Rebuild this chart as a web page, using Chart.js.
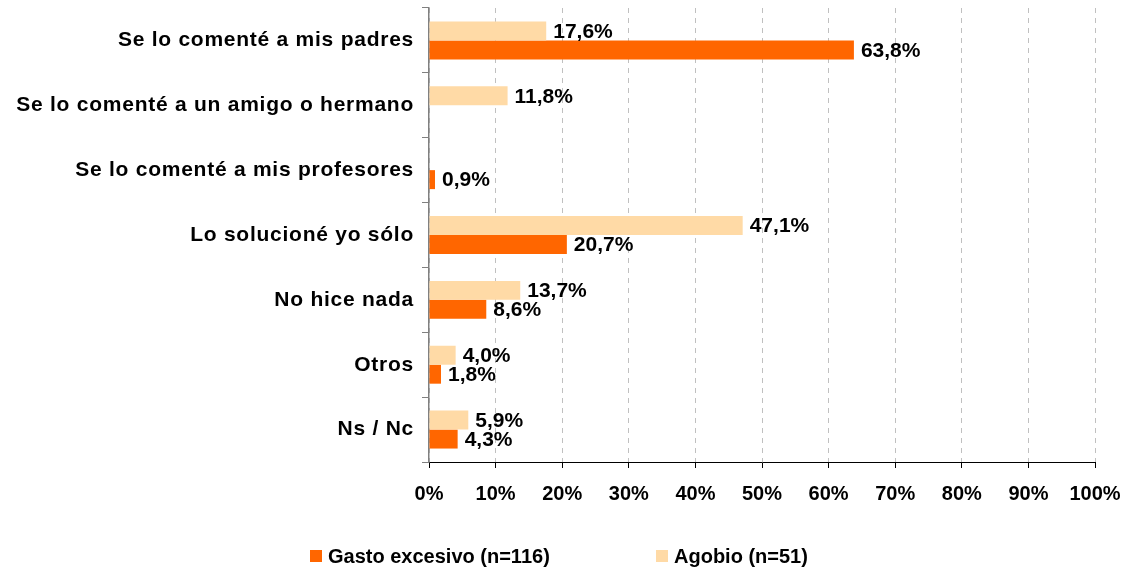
<!DOCTYPE html>
<html>
<head>
<meta charset="utf-8">
<script src="https://cdn.jsdelivr.net/npm/chart.js@4/dist/chart.umd.min.js"></script>
<style>
  body{ margin:0; background:#fff; }
  #wrap{ position:relative; width:1129px; height:571px; }
  #legend{ position:absolute; left:0; top:544px; width:1129px; height:24px; font:bold 20px "Liberation Sans", Arial, sans-serif; color:#000; }
  #legend span.item{ position:absolute; top:0; white-space:nowrap; line-height:24px; }
  #legend i{ position:absolute; top:6px; width:12px; height:12px; }
</style>
</head>
<body>
<div id="wrap">
  <canvas id="chart" width="1129" height="571"></canvas>
  <div id="legend"></div>
</div>
<script>
// Categorías (de arriba abajo)
const categories = [
  'Se lo comenté a mis padres',
  'Se lo comenté a un amigo o hermano',
  'Se lo comenté a mis profesores',
  'Lo solucioné yo sólo',
  'No hice nada',
  'Otros',
  'Ns / Nc'
];
// % por serie (null = sin barra)
const agobio = [17.6, 11.8, null, 47.1, 13.7, 4.0, 5.9];
const gasto  = [63.8, null, 0.9, 20.7, 8.6, 1.8, 4.3];
const seriesNames = ['Gasto excesivo (n=116)', 'Agobio (n=51)'];
const xTicks = [0,10,20,30,40,50,60,70,80,90,100];

const ORANGE = '#FF6600', PEACH = '#FFDAA6';
const FONT = '"Liberation Sans", Arial, sans-serif';

const fmt = v => v.toFixed(1).replace('.', ',') + '%';

// el eje de categorías va algo espaciado
const spacingPlugin = {
  id:'spacing',
  beforeDraw(chart){ chart.ctx.letterSpacing = '0.75px'; }
};

const valueLabels = {
  id:'valueLabels',
  afterDatasetsDraw(chart){
    const ctx = chart.ctx;
    ctx.letterSpacing = '0px';
    ctx.save();
    ctx.font = 'bold 21px ' + FONT;
    ctx.fillStyle = '#000';
    ctx.textAlign = 'left'; ctx.textBaseline = 'middle';
    chart.data.datasets.forEach((ds, i) => {
      chart.getDatasetMeta(i).data.forEach((el, j) => {
        const v = ds.data[j];
        if (v == null) return;
        ctx.fillText(fmt(v), el.x + 7, el.y + 1);
      });
    });
    ctx.restore();
  }
};

new Chart(document.getElementById('chart'), {
  type:'bar',
  data:{
    labels: categories,
    datasets:[
      { label: seriesNames[1], data: agobio, backgroundColor: PEACH, categoryPercentage:0.585, barPercentage:1 },
      { label: seriesNames[0], data: gasto, backgroundColor: ORANGE, categoryPercentage:0.585, barPercentage:1 }
    ]
  },
  options:{
    indexAxis:'y',
    responsive:false,
    animation:false,
    layout:{ padding:{ top:8, right:34, left:0, bottom:0 } },
    plugins:{ legend:{ display:false }, tooltip:{ enabled:false } },
    scales:{
      x:{
        min:0, max:100,
        afterBuildTicks: s => { s.ticks = xTicks.map(v => ({ value:v })); },
        afterFit: s => { s.height = 109; s.paddingLeft = 0; s.paddingRight = 0; },
        ticks:{ z:1, callback: v => v + '%', color:'#000', padding:14, font:{ family:FONT, size:20, weight:'bold' } },
        grid:{ color:'#c0c0c0', tickColor:'#000', tickLength:6, tickBorderDash:[] },
        border:{ color:'#000', width:1, dash:[5,5] }
      },
      y:{
        afterFit: s => { s.width = 429; s.paddingTop = 0; s.paddingBottom = 0; },
        ticks:{ color:'#000', padding:8, font:{ family:FONT, size:21, weight:'bold' } },
        grid:{ drawOnChartArea:false, tickLength:7, tickColor:'#808080', color:'#808080' },
        border:{ color:'#808080', width:1.5 }
      }
    }
  },
  plugins:[spacingPlugin, valueLabels]
});

// leyenda
const legend = document.getElementById('legend');
[[seriesNames[0], ORANGE, 310], [seriesNames[1], PEACH, 656]].forEach(([txt, col, x]) => {
  const s = document.createElement('span');
  s.className = 'item'; s.style.left = x + 'px';
  s.innerHTML = `<i style="left:0;background:${col}"></i><span style="margin-left:18px">${txt}</span>`;
  legend.appendChild(s);
});
</script>
</body>
</html>
